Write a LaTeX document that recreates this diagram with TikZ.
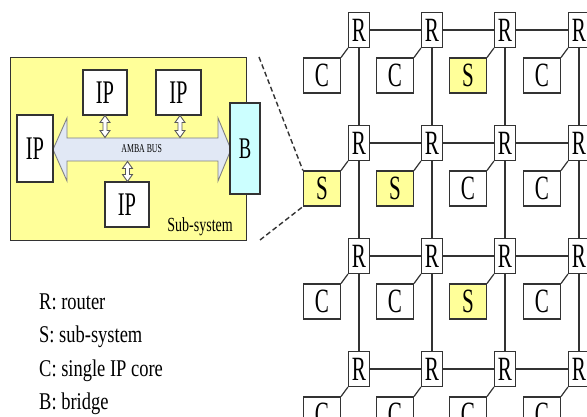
\documentclass[tikz,border=0pt]{standalone}
\usepackage{fontspec}
\setmainfont{Liberation Serif}
\newfontfamily\meshfont{Liberation Serif}[FakeStretch=0.62]
\newfontfamily\legfont{Liberation Serif}[FakeStretch=0.77]
\newfontfamily\subfont{Liberation Serif}[FakeStretch=0.7]
\newfontfamily\busfont{Liberation Serif}[FakeStretch=0.65]
\usetikzlibrary{calc}
\definecolor{syel}{HTML}{FFFF99}
\definecolor{bcyan}{HTML}{CCFFFF}
\definecolor{busfill}{HTML}{E1E8F5}
\definecolor{linec}{HTML}{333333}
\newcommand\vdarrowx[3]{%
  \draw[smallarr] (#1,#2) -- ++(5,7) -- ++(-3,0) -- ++(0,{#3-#2-14}) -- ++(3,0)
    -- ++(-5,7) -- ++(-5,-7) -- ++(3,0) -- ++(0,{-(#3-#2-14)}) -- ++(-3,0) -- cycle;}
\begin{document}
\begin{tikzpicture}[x=1pt,y=-1pt,
  meshline/.style={draw=linec,line width=1.2pt},
  router/.style={draw=linec,fill=white,line width=1.2pt,minimum width=21pt,minimum height=35pt,inner sep=0pt,font=\meshfont\fontsize{34}{34}\selectfont},
  core/.style={router,minimum width=37pt},
  subs/.style={core,fill=syel},
  ipbox/.style={draw=linec,fill=white,line width=1.2pt,inner sep=0pt,font=\meshfont\fontsize{33}{33}\selectfont},
  bridge/.style={ipbox,fill=bcyan,minimum width=30pt,minimum height=91pt,font=\meshfont\fontsize{30}{30}\selectfont},
  subbox/.style={draw=linec,fill=syel,line width=1.2pt,inner sep=0pt,minimum width=236pt,minimum height=183pt},
  bus/.style={draw=gray,fill=busfill,line width=0.9pt,line join=miter},
  smallarr/.style={draw=gray!70!black,fill=white,line width=0.9pt},
  dashline/.style={draw=linec,line width=1.4pt,dash pattern=on 5pt off 3pt},
  legend/.style={anchor=base west,inner sep=0pt,font=\legfont\fontsize{24}{24}\selectfont}
]
\useasboundingbox (0,0) rectangle (587,417);
\clip (0,0) rectangle (587,417);
\fill[white] (0,0) rectangle (587,417);

% ---- sub-system detail ----
\node[subbox,anchor=north west] (sub) at (10,57) {};
\draw[bus] (53,149.5) -- (67,118) -- (67,138) -- (218,138) -- (218,118) -- (231,149.5)
  -- (218,181) -- (218,161) -- (67,161) -- (67,181) -- cycle;
\node[font=\busfont\fontsize{12}{12}\selectfont,inner sep=0pt] (busl) at (141.7,148.5) {AMBA BUS};
\node[ipbox,minimum width=36pt,minimum height=67pt] (ipl) at (35,148.5) {IP};
\node[ipbox,minimum width=44pt,minimum height=45pt] (ipa) at (105,92.5) {IP};
\node[ipbox,minimum width=45pt,minimum height=45pt] (ipb) at (178.5,92.5) {IP};
\node[ipbox,minimum width=44pt,minimum height=45pt] (ipc) at (127,204.5) {IP};
\node[bridge] (br) at (245,148.5) {B};
\vdarrowx{105}{115.5}{137.5}
\vdarrowx{180}{115.5}{137.5}
\vdarrowx{127.5}{161.5}{181.5}
\node[anchor=base east,inner sep=0pt,font=\subfont\fontsize{20}{20}\selectfont] (subl) at (233,232) {Sub-system};

% ---- mesh ----
\foreach \x [count=\i] in {359,432,505,579}{
  \foreach \y [count=\j] in {30,143,256,369}{
    \node[router] (r\i\j) at (\x,\y) {R};
  }}
\foreach \j in {1,...,4}{
  \foreach \a/\b in {1/2,2/3,3/4}{
    \draw[meshline] (r\a\j) -- (r\b\j);
    \draw[meshline] (r\j\a) -- (r\j\b);
  }}
\foreach \i/\j/\k/\t in {1/1/core/C,2/1/core/C,3/1/subs/S,4/1/core/C,
                        1/2/subs/S,2/2/subs/S,3/2/core/C,4/2/core/C,
                        1/3/core/C,2/3/core/C,3/3/subs/S,4/3/core/C,
                        1/4/core/C,2/4/core/C,3/4/core/C,4/4/core/C}{
  \node[\k] (a\i\j) at ($(r\i\j)+(-37,45.5)$) {\t};
  \draw[meshline] (a\i\j.north east) -- (r\i\j.south west);
}

% ---- zoom lines ----
\coordinate (d1) at (259,57);
\coordinate (d2) at (260,240);
\draw[dashline] (d1) -- (a12.north west);
\draw[dashline] (d2) -- (a12.south west);

% ---- legend ----
\node[legend] (l1) at (39,309.3) {R: router};
\node[legend] (l2) at (39,342.6) {S: sub-system};
\node[legend] (l3) at (39,376) {C: single IP core};
\node[legend] (l4) at (39,409.3) {B: bridge};
\end{tikzpicture}
\end{document}
